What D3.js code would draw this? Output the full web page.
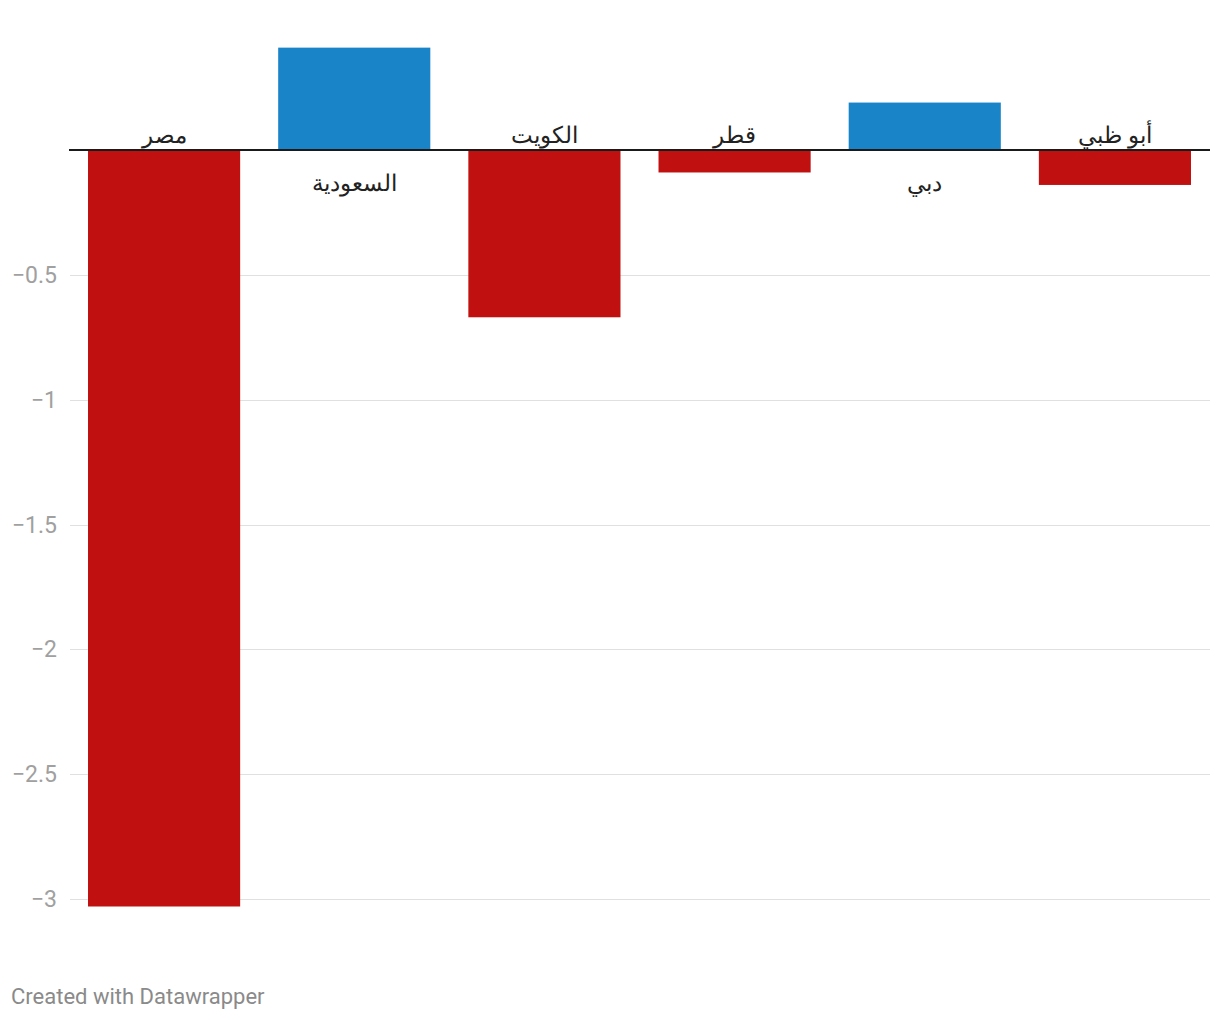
<!DOCTYPE html>
<html><head><meta charset="utf-8">
<script src="https://cdn.jsdelivr.net/npm/d3@7"></script>
<style>
body{margin:0;background:#fff;}
svg{display:block;}
</style></head>
<body>
<svg id="chart" width="1220" height="1020"></svg>
<script>
const categories = ["مصر","السعودية","الكويت","قطر","دبي","أبو ظبي"];
const values = [-3.03, 0.41, -0.67, -0.09, 0.19, -0.14];
const tickValues = [-0.5, -1, -1.5, -2, -2.5, -3];
const tickLabels = ["−0.5","−1","−1.5","−2","−2.5","−3"];
const footer = "Created with Datawrapper";

const svg = d3.select("#chart");
const x = d3.scaleBand().domain(categories).range([69, 1210]).paddingInner(0.2).paddingOuter(0.1);
const y = d3.scaleLinear().domain([-3, 0]).range([899, 150]);

// gridlines
svg.append("g").selectAll("line").data(tickValues).join("line")
  .attr("x1", 70).attr("x2", 1210)
  .attr("y1", d => Math.round(y(d)) + 0.5).attr("y2", d => Math.round(y(d)) + 0.5)
  .attr("stroke", "#e0e0e0").attr("stroke-width", 1);

svg.append("g").selectAll("text").data(tickValues).join("text")
  .attr("x", 57).attr("y", d => y(d)).attr("dy", "0.35em")
  .attr("text-anchor", "end")
  .attr("font-family", "Roboto").attr("font-size", 23).attr("fill", "#a0a0a0")
  .text((d, i) => tickLabels[i]);

// bars
svg.append("g").selectAll("rect").data(values).join("rect")
  .attr("x", (d, i) => x(categories[i]))
  .attr("width", x.bandwidth())
  .attr("y", d => y(Math.max(0, d)))
  .attr("height", d => Math.abs(y(d) - y(0)))
  .attr("fill", d => d < 0 ? "#c11010" : "#1a84c8");

// zero line
svg.append("line").attr("x1", 69).attr("x2", 1210).attr("y1", y(0)).attr("y2", y(0))
  .attr("stroke", "#1a1a1a").attr("stroke-width", 2);

// labels
svg.append("g").selectAll("text").data(values).join("text")
  .attr("x", (d, i) => x(categories[i]) + x.bandwidth() / 2)
  .attr("y", d => d < 0 ? y(0) - 7 : y(0) + 41)
  .attr("text-anchor", "middle")
  .attr("font-family", "Roboto, 'Noto Sans', sans-serif").attr("font-size", 23).attr("fill", "#222")
  .text((d, i) => categories[i]);

svg.append("text").attr("x", 11).attr("y", 1004)
  .attr("font-family", "Roboto").attr("font-size", 22).attr("fill", "#8a8a8a")
  .text(footer);
</script>
</body></html>
